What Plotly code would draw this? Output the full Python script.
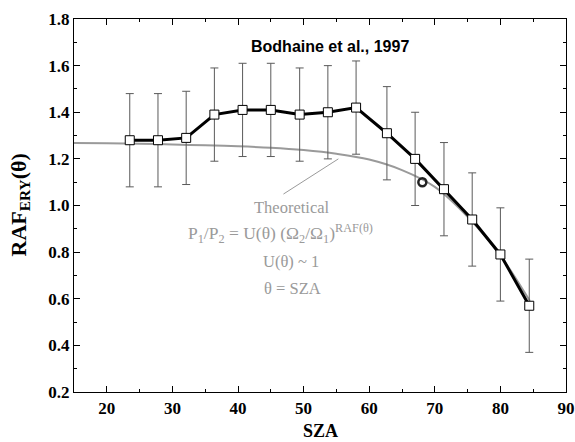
import plotly.graph_objects as go

# Measured RAF (Bodhaine et al., 1997)
sza = [23.5, 27.8, 32.1, 36.4, 40.7, 45.0, 49.4, 53.7, 58.0, 62.7, 67.0, 71.4, 75.7, 80.0, 84.4]
raf = [1.28, 1.28, 1.29, 1.39, 1.41, 1.41, 1.39, 1.40, 1.42, 1.31, 1.20, 1.07, 0.94, 0.79, 0.57]
raf_err = [0.20, 0.20, 0.20, 0.20, 0.20, 0.20, 0.20, 0.20, 0.20, 0.20, 0.20, 0.20, 0.20, 0.20, 0.20]

# Theoretical curve
theo_sza = [15, 20, 25, 30, 35, 40, 45, 50, 55, 60, 65, 70, 75, 80, 84.5]
theo_raf = [1.268, 1.267, 1.265, 1.262, 1.258, 1.254, 1.248, 1.238, 1.222, 1.197, 1.152, 1.080, 0.952, 0.785, 0.59]

# Single extra point
pt_sza = [68.1]
pt_raf = [1.10]

x_ticks = [20, 30, 40, 50, 60, 70, 80, 90]
y_ticks = [0.2, 0.4, 0.6, 0.8, 1.0, 1.2, 1.4, 1.6, 1.8]

serif = "Liberation Serif, Times New Roman, serif"
sans = "Liberation Sans, Arial, sans-serif"
gray = "#9a9a9a"

fig = go.Figure()

fig.add_trace(go.Scatter(
    x=theo_sza, y=theo_raf, mode="lines", line=dict(color=gray, width=2, shape="spline"),
    hoverinfo="skip", showlegend=False))

fig.add_trace(go.Scatter(
    x=sza, y=raf, mode="lines+markers",
    line=dict(color="black", width=3),
    marker=dict(symbol="square", size=9, color="white", line=dict(color="black", width=1)),
    error_y=dict(type="data", array=raf_err, visible=True, color="#5a5a5a", thickness=1, width=4),
    showlegend=False))

fig.add_trace(go.Scatter(
    x=pt_sza, y=pt_raf, mode="markers",
    marker=dict(symbol="circle-open", size=8, color="#222222", line=dict(width=2.5)),
    showlegend=False))

axis_common = dict(
    showline=True, linecolor="black", linewidth=1.2, mirror="ticks",
    ticks="inside", ticklen=6, tickcolor="black", tickwidth=1,
    showgrid=False, zeroline=False, automargin=False,
    tickfont=dict(family=serif, size=17, color="black"),
)

fig.update_xaxes(range=[15, 90], tickvals=x_ticks, ticktext=[f"<b>{v}</b>" for v in x_ticks],
                 minor=dict(dtick=5, ticks="inside", ticklen=3, tickcolor="black", showgrid=False),
                 **axis_common)
fig.update_yaxes(range=[0.2, 1.8], tickvals=y_ticks, ticktext=[f"<b>{v:.1f}</b>" for v in y_ticks],
                 minor=dict(dtick=0.1, ticks="inside", ticklen=3, tickcolor="black", showgrid=False),
                 **axis_common)

annotations = [
    dict(text="<b>Bodhaine et al., 1997</b>", x=0, y=0,
         showarrow=False, font=dict(family=sans, size=16, color="black")),
    dict(text="<b>SZA</b>", x=0.5, y=0, xref="paper", yref="paper", yanchor="top", yshift=-27,
         showarrow=False, font=dict(family=serif, size=18, color="black")),
    dict(text="<b>RAF<sub>ERY</sub>(θ)</b>", x=0, y=0.5, xref="paper", yref="paper", xanchor="center",
         xshift=-55, textangle=-90, showarrow=False, font=dict(family=serif, size=22, color="black")),
    dict(text="Theoretical", x=0, y=0, showarrow=False, font=dict(family=serif, size=16.5, color=gray)),
    dict(text="P<sub>1</sub>/P<sub>2</sub> = U(θ) (Ω<sub>2</sub>/Ω<sub>1</sub>)<sup>RAF(θ)</sup>",
         x=0, y=0, showarrow=False, font=dict(family=serif, size=17.5, color=gray)),
    dict(text="U(θ) ~ 1", x=0, y=0, showarrow=False, font=dict(family=serif, size=16.5, color=gray)),
    dict(text="θ = SZA", x=0, y=0, showarrow=False, font=dict(family=serif, size=16.5, color=gray)),
    dict(text="", x=55.3, y=1.20, ax=46.7, ay=1.045, xref="x", yref="y", axref="x", ayref="y",
         showarrow=True, arrowhead=0, arrowwidth=1, arrowcolor=gray),
]

# place text lines in data coordinates
L = 74; R = 566; T = 19.5; B = 392.5
def px2x(px):
    return 15 + (px - L) / (R - L) * 75
def py2y(py):
    return 1.8 - (py - T) / (B - T) * 1.6

positions = [(292, 208), (280, 234), (291, 262), (292, 289)]
for ann, (px, py) in zip(annotations[3:7], positions):
    ann.update(x=px2x(px), y=py2y(py), xref="x", yref="y")
annotations[0].update(x=px2x(330), y=py2y(47), xref="x", yref="y")

fig.update_layout(
    width=575, height=442,
    margin=dict(l=74, r=9, t=19, b=50, autoexpand=False),
    paper_bgcolor="white", plot_bgcolor="white",
    annotations=annotations,
    showlegend=False,
)

fig.write_html("out.html", config={"displayModeBar": False},
               post_script="document.body.style.margin='0';document.body.style.overflow='hidden';")
